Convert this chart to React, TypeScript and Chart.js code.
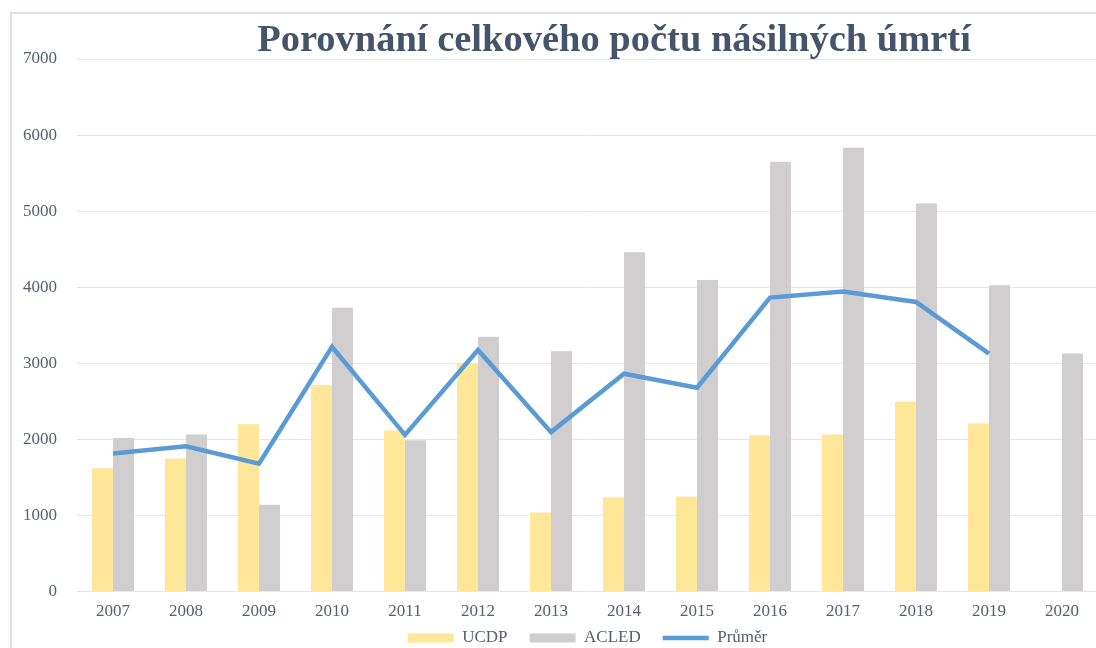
import React, { useEffect, useRef } from 'react';
import { Chart, registerables } from 'chart.js';

Chart.register(...registerables);

const years = ['2007', '2008', '2009', '2010', '2011', '2012', '2013', '2014', '2015', '2016', '2017', '2018', '2019', '2020'];
const ucdp = [1620, 1750, 2200, 2715, 2118, 2990, 1040, 1240, 1250, 2055, 2065, 2495, 2210, null];
const acled = [2020, 2065, 1140, 3730, 1990, 3348, 3160, 4460, 4095, 5650, 5835, 5100, 4025, 3130];
const prumer = [1815, 1910, 1680, 3218, 2060, 3175, 2096, 2864, 2680, 3864, 3943, 3807, 3127, null];
const yTicks = [0, 1000, 2000, 3000, 4000, 5000, 6000, 7000];

const SERIF = "'Liberation Serif', 'Times New Roman', serif";
const TICK_COLOR = '#556070';

const legendLift = {
  id: 'legendLift',
  afterLayout(chart: any) {
    const lg = chart.legend;
    if (lg) {
      lg.top -= 16.6;
      lg.bottom -= 16.6;
    }
  },
};

export default function App() {
  const ref = useRef<HTMLCanvasElement | null>(null);

  useEffect(() => {
    if (!ref.current) return;
    const chart = new Chart(ref.current, {
      type: 'bar',
      data: {
        labels: years,
        datasets: [
          {
            type: 'bar',
            label: 'UCDP',
            data: ucdp,
            backgroundColor: '#FFE699',
            borderWidth: 0,
            order: 1,
          },
          {
            type: 'bar',
            label: 'ACLED',
            data: acled,
            backgroundColor: '#D0CECE',
            borderWidth: 0,
            order: 1,
          },
          {
            type: 'line',
            label: 'Průměr',
            data: prumer,
            borderColor: '#5B9BD5',
            backgroundColor: '#5B9BD5',
            borderWidth: 4.5,
            pointRadius: 0,
            pointHoverRadius: 0,
            tension: 0,
            spanGaps: false,
            order: 0,
          } as any,
        ],
      },
      plugins: [legendLift],
      options: {
        animation: false,
        responsive: true,
        maintainAspectRatio: false,
        datasets: {
          bar: {
            barPercentage: 1,
            categoryPercentage: 0.575,
          },
        },
        layout: {
          padding: { left: 0, right: 0, top: 0, bottom: 0 },
        },
        plugins: {
          title: {
            display: true,
            text: 'Porovnání celkového počtu násilných úmrtí',
            color: '#44546A',
            font: { family: SERIF, size: 38.5, weight: 'bold', lineHeight: 1.0 },
            padding: { top: 8, bottom: -1.5 },
          },
          legend: {
            display: true,
            position: 'bottom',
            fullSize: false,
            labels: {
              usePointStyle: true,
              pointStyleWidth: 46,
              boxWidth: 46,
              boxHeight: 9,
              padding: 22,
              color: TICK_COLOR,
              font: { family: SERIF, size: 17 },
              sort: (a: any, b: any) => a.datasetIndex - b.datasetIndex,
              generateLabels: (c: any) => {
                const items = (Chart as any).defaults.plugins.legend.labels.generateLabels(c);
                items.forEach((it: any) => {
                  if (it.datasetIndex === 2) {
                    it.pointStyle = 'line';
                    it.lineWidth = 4.5;
                    it.strokeStyle = '#5B9BD5';
                  } else {
                    it.pointStyle = 'rect';
                    it.lineWidth = 0;
                  }
                });
                return items;
              },
            },
          },
          tooltip: { enabled: false },
        },
        scales: {
          x: {
            grid: { display: false },
            border: { display: false },
            ticks: {
              color: TICK_COLOR,
              font: { family: SERIF, size: 17 },
              padding: 2,
              maxRotation: 0,
            },
          },
          y: {
            min: 0,
            max: 7000,
            afterBuildTicks: (scale: any) => {
              scale.ticks = yTicks.map((v) => ({ value: v }));
            },
            afterFit: (scale: any) => {
              scale.width = 64.5;
            },
            grid: { color: '#E6E6EC', lineWidth: 1, drawTicks: false },
            border: { display: false },
            ticks: {
              color: TICK_COLOR,
              font: { family: SERIF, size: 17 },
              padding: 19.5,
              callback: (v: any) => String(v),
            },
          },
          yRight: {
            type: 'linear',
            position: 'right',
            display: true,
            grid: { display: false, drawTicks: false },
            border: { display: false },
            ticks: { display: false },
            afterFit: (scale: any) => {
              scale.width = 117.5;
            },
          },
        },
      },
    });
    return () => chart.destroy();
  }, []);

  return (
    <div
      style={{
        position: 'fixed',
        left: 10,
        top: 12,
        width: 1204,
        height: 659,
        borderLeft: '2px solid #DDE1E8',
        borderTop: '2px solid #DDE1E8',
        background: '#fff',
      }}
    >
      <div style={{ position: 'relative', width: 1204, height: 659 }}>
        <canvas ref={ref} />
      </div>
    </div>
  );
}
